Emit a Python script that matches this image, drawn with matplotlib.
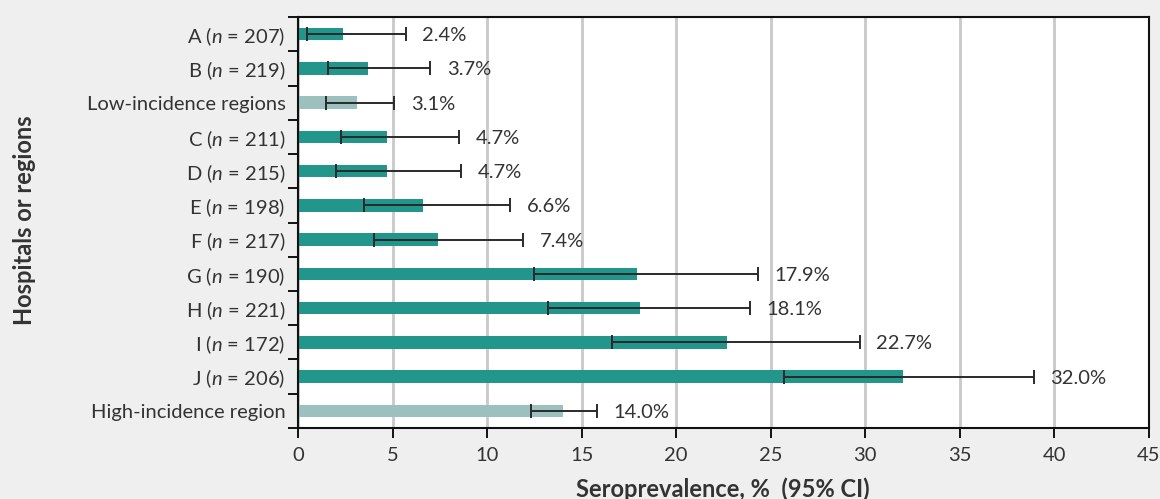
import matplotlib
matplotlib.use('Agg')
import matplotlib.pyplot as plt
import numpy as np

# data
groups = ['A', 'B', 'Low-incidence regions', 'C', 'D', 'E', 'F', 'G', 'H', 'I', 'J', 'High-incidence region']
sizes = [207, 219, None, 211, 215, 198, 217, 190, 221, 172, 206, None]
prev = [2.4, 3.7, 3.1, 4.7, 4.7, 6.6, 7.4, 17.9, 18.1, 22.7, 32.0, 14.0]
ci_low = [0.5, 1.6, 1.5, 2.3, 2.0, 3.5, 4.0, 12.5, 13.2, 16.6, 25.7, 12.3]
ci_high = [5.7, 7.0, 5.1, 8.5, 8.6, 11.2, 11.9, 24.3, 23.9, 29.7, 38.9, 15.8]

plt.rcParams['font.family'] = ['Lato', 'DejaVu Sans']
plt.rcParams['mathtext.fontset'] = 'custom'
plt.rcParams['mathtext.it'] = 'Lato:italic'
plt.rcParams['mathtext.rm'] = 'Lato'

teal = '#23968c'
pale = '#9bc0bd'
txt = '#333333'

def make_label(g, n):
  if n is None:
    return g
  return g + r' ($\it{n}$ = ' + str(n) + ')'

labels = [make_label(g, n) for g, n in zip(groups, sizes)]
colors = [pale if n is None else teal for n in sizes]

fig = plt.figure(figsize=(11.6, 4.99), dpi=100, facecolor='#efefef')
ax = fig.add_axes([0.2569, 0.1423, 0.7336, 0.8236])
ax.set_facecolor('white')

y = np.arange(len(groups))
ax.barh(y, prev, height=0.37, color=colors, zorder=2)
err = [np.array(prev) - np.array(ci_low), np.array(ci_high) - np.array(prev)]
ax.errorbar(prev, y, xerr=err, fmt='none', ecolor='#2a2a2a', elinewidth=1.4,
            capsize=5, capthick=1.4, zorder=3)

for yi, v, hi in zip(y, prev, ci_high):
  ax.annotate(f'{v:.1f}%', (hi, yi), xytext=(12, -1), textcoords='offset points',
              va='center', ha='left', fontsize=14.5, color=txt)

ax.set_xlim(0, 45)
ax.set_ylim(len(groups) - 0.5, -0.5)
ax.set_xticks(np.arange(0, 46, 5))
ax.set_yticks(y)
ax.set_yticklabels(labels)
ax.set_yticks(np.arange(-0.5, len(groups), 1), minor=True)
ax.tick_params(axis='y', which='major', length=0, pad=9, labelsize=14.5, labelcolor=txt)
ax.tick_params(axis='y', which='minor', length=7, width=1.3, direction='out')
ax.tick_params(axis='x', length=7, width=1.3, pad=7, labelsize=14.5, labelcolor=txt)

ax.grid(axis='x', color='#c9c9c9', linewidth=2, zorder=0)
ax.set_axisbelow(True)
for s in ax.spines.values():
  s.set_linewidth(1.5)
  s.set_color('#111111')

fig.text(0.623, 0.02, 'Seroprevalence, %  (95% CI)', fontsize=17, fontweight='bold',
         color=txt, ha='center', va='center')
fig.text(0.021, 0.559, 'Hospitals or regions', rotation=90, fontsize=17,
         fontweight='bold', color=txt, ha='center', va='center')

fig.savefig('out.png', dpi=100, facecolor=fig.get_facecolor())
